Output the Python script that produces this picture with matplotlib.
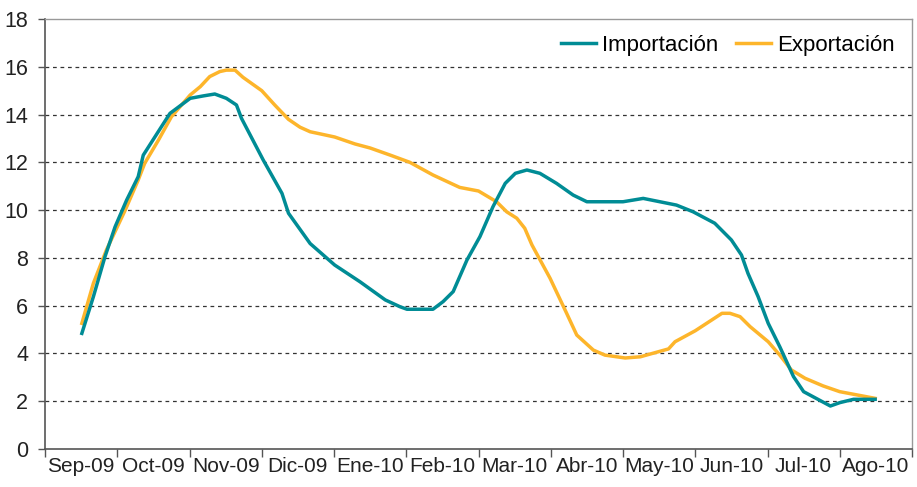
import matplotlib
matplotlib.use("Agg")
import matplotlib.pyplot as plt
from matplotlib.ticker import FixedLocator

plt.rcParams['font.family'] = ['Liberation Sans', 'DejaVu Sans']

months = ["Sep-09", "Oct-09", "Nov-09", "Dic-09", "Ene-10", "Feb-10",
          "Mar-10", "Abr-10", "May-10", "Jun-10", "Jul-10", "Ago-10"]

imp_x = [0.51, 0.67, 0.83, 0.97, 1.13, 1.29, 1.36, 1.55, 1.73, 2.01, 2.19, 2.35,
         2.51, 2.65, 2.72, 3.02, 3.28, 3.37, 3.67, 4.01, 4.36, 4.71, 4.91, 5.01,
         5.37, 5.51, 5.65, 5.84, 6.02, 6.20, 6.37, 6.51, 6.67, 6.85, 7.08, 7.31,
         7.50, 8.00, 8.28, 8.74, 8.97, 9.27, 9.50, 9.64, 9.73, 9.87, 10.01, 10.17,
         10.36, 10.50, 10.87, 11.00, 11.19, 11.49]
imp_y = [4.84, 6.38, 8.05, 9.30, 10.42, 11.40, 12.30, 13.20, 14.05, 14.68, 14.78, 14.86,
         14.68, 14.40, 13.84, 12.10, 10.70, 9.87, 8.60, 7.70, 7.00, 6.24, 5.96, 5.85,
         5.85, 6.17, 6.59, 7.91, 8.89, 10.14, 11.12, 11.54, 11.68, 11.54, 11.12, 10.63,
         10.35, 10.35, 10.49, 10.21, 9.93, 9.45, 8.75, 8.12, 7.35, 6.38, 5.26, 4.28,
         3.03, 2.40, 1.80, 1.94, 2.08, 2.08]

exp_x = [0.51, 0.67, 0.85, 1.11, 1.29, 1.38, 1.57, 1.75, 2.01, 2.15, 2.28, 2.42,
         2.51, 2.63, 2.74, 3.00, 3.18, 3.37, 3.53, 3.67, 3.81, 4.01, 4.29, 4.50,
         4.78, 5.05, 5.37, 5.74, 6.00, 6.25, 6.39, 6.53, 6.64, 6.74, 6.99, 7.22,
         7.36, 7.59, 7.75, 8.03, 8.24, 8.63, 8.72, 9.00, 9.37, 9.48, 9.62, 9.76,
         10.01, 10.17, 10.33, 10.52, 10.77, 11.00, 11.49]
exp_y = [5.26, 6.94, 8.33, 10.00, 11.26, 11.96, 12.93, 13.91, 14.82, 15.17, 15.59, 15.80,
         15.86, 15.86, 15.56, 15.00, 14.40, 13.80, 13.47, 13.28, 13.19, 13.06, 12.77, 12.60,
         12.30, 12.00, 11.47, 10.95, 10.80, 10.35, 9.93, 9.66, 9.24, 8.54, 7.15, 5.68,
         4.77, 4.14, 3.93, 3.81, 3.86, 4.19, 4.49, 4.95, 5.68, 5.68, 5.54, 5.12,
         4.49, 3.93, 3.31, 2.96, 2.64, 2.40, 2.12]

fig = plt.figure(figsize=(9.17, 4.87), dpi=100)
ax = fig.add_axes([45/917, 38/487, 867/917, 430/487])

for yv in range(2, 18, 2):
    ax.axhline(yv, color='#333333', lw=0.9, ls=(0, (3, 3)), zorder=1)

ax.plot(imp_x, imp_y, color='#008C95', lw=2.5, label='Importación', zorder=3,
        solid_joinstyle='round')
ax.plot(exp_x, exp_y, color='#FDB52B', lw=2.5, label='Exportación', zorder=2,
        solid_joinstyle='round')

ax.set_xlim(0, 12)
ax.set_ylim(0, 18)
ax.set_yticks(range(0, 19, 2))
ax.set_yticklabels([str(v) for v in range(0, 19, 2)], fontsize=15.5, color='#222222')

ax.xaxis.set_major_locator(FixedLocator(list(range(13))))
ax.set_xticklabels([])
ax.xaxis.set_minor_locator(FixedLocator([i + 0.5 for i in range(12)]))
ax.set_xticklabels(months, minor=True, fontsize=15, color='#222222')
ax.tick_params(axis='x', which='major', length=6, width=1, color='#555555', direction='out')
ax.tick_params(axis='x', which='minor', length=0, pad=6)
ax.tick_params(axis='y', length=5, width=1, color='#555555', direction='out', pad=7)

for s in ['left', 'bottom']:
    ax.spines[s].set_color('#555555')
    ax.spines[s].set_linewidth(1.2)
for s in ['top', 'right']:
    ax.spines[s].set_color('#999999')
    ax.spines[s].set_linewidth(1.0)

leg = ax.legend(loc='upper right', ncol=2, frameon=False, fontsize=16,
                handlelength=1.6, columnspacing=0.8, handletextpad=0.25,
                bbox_to_anchor=(1.003, 1.01))

fig.savefig('out.png', dpi=100)
